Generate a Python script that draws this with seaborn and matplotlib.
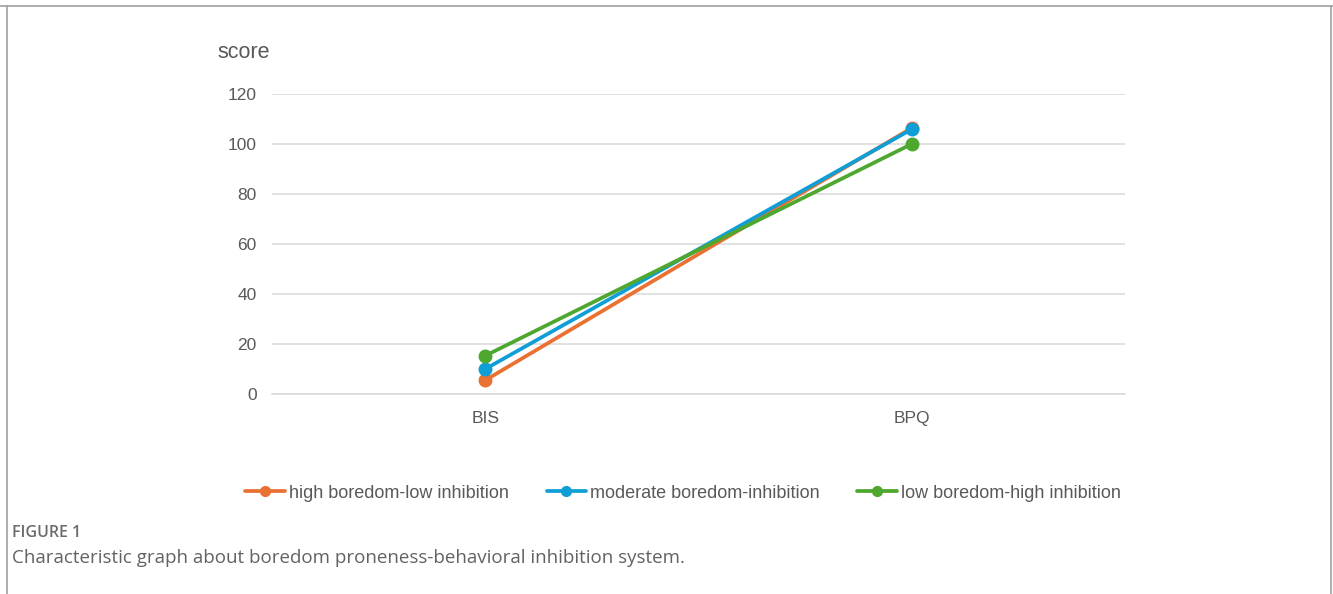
import matplotlib
matplotlib.use("Agg")
import matplotlib.pyplot as plt
from matplotlib.lines import Line2D
import pandas as pd
import seaborn as sns

# data
categories = ["BIS", "BPQ"]
groups = [
    "high boredom-low inhibition",
    "moderate boredom-inhibition",
    "low boredom-high inhibition",
]
high_low = [5.5, 106.4]
moderate = [10.0, 105.9]
low_high = [15.3, 100.0]
y_ticks = [0, 20, 40, 60, 80, 100, 120]
colors = ["#E97132", "#0F9ED5", "#4EA72E"]

rows = []
for grp, vals in zip(groups, [high_low, moderate, low_high]):
    for cat, v in zip(categories, vals):
        rows.append({"measure": cat, "group": grp, "score": v})
df = pd.DataFrame(rows)

sns.set_theme(style="white")
plt.rcParams["font.family"] = ["Liberation Sans", "DejaVu Sans"]

W, H = 1333, 594
fig = plt.figure(figsize=(W / 100, H / 100), dpi=100)
ax = fig.add_axes([272 / W, 1 - 394 / H, 853 / W, 300 / H])

sns.pointplot(
    data=df, x="measure", y="score", hue="group", hue_order=groups,
    order=categories, palette=colors, errorbar=None, dodge=False,
    markers="o", linestyles="-", ax=ax, legend=False,
    linewidth=2.7, markersize=8,
)

ax.set_xlim(-0.5, 1.5)
ax.set_ylim(0, 120)
ax.set_yticks(y_ticks)
ax.yaxis.grid(True, color="#D9D9D9", linewidth=1.1)
ax.set_axisbelow(True)
for s in ax.spines.values():
    s.set_visible(False)
ax.spines["bottom"].set_visible(True)
ax.spines["bottom"].set_color("#D9D9D9")
ax.spines["bottom"].set_linewidth(1.1)
ax.tick_params(axis="both", length=0, labelsize=12.5, labelcolor="#595959")
ax.tick_params(axis="y", pad=11)
ax.tick_params(axis="x", pad=12)
ax.set_xlabel("")
ax.set_ylabel("")

fig.text(244 / W, 1 - 53 / H, "score", ha="center", va="center",
         fontsize=15.5, color="#595959")

handles = [
    Line2D([0], [0], color=c, lw=2.7, marker="o", markersize=7)
    for c in colors
]
fig.legend(handles, groups, loc="center", bbox_to_anchor=(683 / W, 1 - 493 / H),
           ncol=3, frameon=False, fontsize=13, labelcolor="#595959",
           handlelength=2.2, handletextpad=0.2, columnspacing=2.1)

# frame of the figure panel
fig.add_artist(Line2D([0, 1], [1 - 6 / H, 1 - 6 / H], color="#A0A0A0", lw=1.2))
fig.add_artist(Line2D([7 / W, 7 / W], [0, 1 - 6 / H], color="#A0A0A0", lw=1.2))
fig.add_artist(Line2D([1331 / W, 1331 / W], [0, 1 - 6 / H], color="#A0A0A0", lw=1.2))

fig.text(12 / W, 1 - 533 / H, "FIGURE 1", ha="left", va="center",
         fontsize=11.5, color="#6B6B6B", family=["Open Sans", "DejaVu Sans"],
         fontweight="semibold")
fig.text(12 / W, 1 - 558 / H,
         "Characteristic graph about boredom proneness-behavioral inhibition system.",
         ha="left", va="center", fontsize=13.5, color="#626262",
         family=["Open Sans", "DejaVu Sans"])

fig.savefig("out.png", dpi=100)
